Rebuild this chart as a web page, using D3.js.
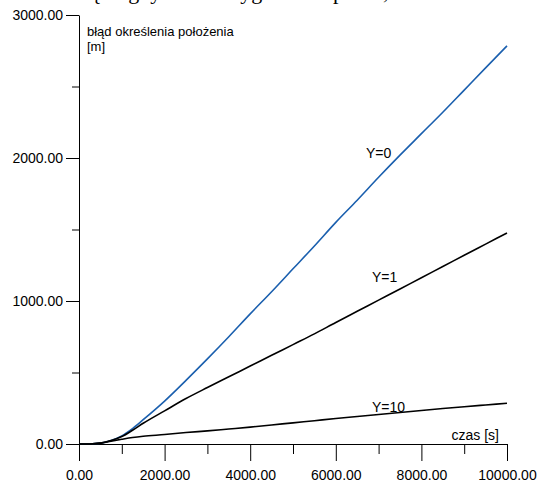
<!DOCTYPE html>
<html>
<head>
<meta charset="utf-8">
<script src="https://cdn.jsdelivr.net/npm/d3@7"></script>
<style>
  html, body { margin: 0; padding: 0; background: #fff; }
  svg { display: block; }
</style>
</head>
<body>
<svg id="chart" width="549" height="482"></svg>
<script>
// ---- data ----
const time = [0, 250, 500, 750, 1000, 1250, 1500, 2000, 2500, 3000, 3500, 4000, 4500, 5000,
              5500, 6000, 6500, 7000, 7500, 8000, 8500, 9000, 9500, 10000];
const errY0  = [0, 0.5, 6, 25, 57, 108, 170, 300, 445, 595, 750, 910, 1065, 1225,
                1385, 1550, 1705, 1865, 2020, 2170, 2320, 2475, 2630, 2784];
const errY1  = [0, 0.5, 6, 24, 52, 96, 145, 232, 318, 395, 470, 545, 620, 695,
                770, 850, 928, 1006, 1084, 1163, 1241, 1320, 1398, 1476];
const errY10 = [0, 0.5, 6, 20, 33, 45, 54, 66, 80, 92, 105, 118, 133, 148,
                163, 178, 192, 206, 220, 234, 248, 261, 273, 285];
const seriesNames = ["Y=0", "Y=1", "Y=10"];
const xMajorTicks = [0, 2000, 4000, 6000, 8000, 10000];
const xMinorTicks = [1000, 3000, 5000, 7000, 9000];
const yMajorTicks = [0, 1000, 2000, 3000];
const yMinorTicks = [500, 1500, 2500];
const yTitle = ["błąd określenia położenia", "[m]"];
const xTitle = "czas [s]";
const topText = "ności błędu gdy nie ma sygnału od pilota, zależności czasu";

// ---- drawing ----
const svg = d3.select("#chart");
const font = "Liberation Sans, Arial, sans-serif";

// cut-off line of the page text above the figure
svg.append("text")
  .attr("x", 22).attr("y", -1)
  .attr("font-family", "Liberation Serif, Times New Roman, serif")
  .attr("font-size", 22)
  .attr("fill", "#000")
  .text(topText);

const x = d3.scaleLinear().domain([0, 10000]).range([79, 507]);
const y = d3.scaleLinear().domain([0, 3000]).range([444, 15]);
const fmt = d3.format(".2f");

// X axis
const gx = svg.append("g").attr("transform", `translate(0,${y(0)})`);
gx.call(d3.axisBottom(x).tickValues(xMajorTicks).tickSize(17).tickSizeOuter(0).tickPadding(9).tickFormat(fmt));
gx.append("g").call(d3.axisBottom(x).tickValues(xMinorTicks).tickSize(10).tickSizeOuter(0).tickFormat(""))
  .select(".domain").remove();

// Y axis
const gy = svg.append("g").attr("transform", `translate(${x(0)},0)`);
gy.call(d3.axisLeft(y).tickValues(yMajorTicks).tickSize(13).tickSizeOuter(0).tickPadding(3).tickFormat(fmt));
gy.append("g").call(d3.axisLeft(y).tickValues(yMinorTicks).tickSize(7).tickSizeOuter(0).tickFormat(""))
  .select(".domain").remove();

svg.selectAll(".domain, .tick line").attr("stroke", "#000").attr("stroke-width", 1);
svg.selectAll(".tick text").attr("font-family", font).attr("font-size", 14).attr("fill", "#000");

// titles
const yt = svg.append("text").attr("font-family", font).attr("font-size", 13).attr("fill", "#000");
yTitle.forEach((t, i) => yt.append("tspan").attr("x", 87).attr("y", 36 + i * 15).text(t));
svg.append("text").attr("x", 499).attr("y", 440).attr("text-anchor", "end")
  .attr("font-family", font).attr("font-size", 14).attr("fill", "#000").text(xTitle);

// lines
const series = [
  { name: seriesNames[0], values: errY0,  color: "#1a5fae", lx: 366, ly: 158 },
  { name: seriesNames[1], values: errY1,  color: "#000000", lx: 372, ly: 282 },
  { name: seriesNames[2], values: errY10, color: "#000000", lx: 372, ly: 412 }
];
const line = d3.line().x(d => x(d[0])).y(d => y(d[1])).curve(d3.curveMonotoneX);
series.forEach(s => {
  svg.append("path")
    .datum(time.map((t, i) => [t, s.values[i]]))
    .attr("fill", "none").attr("stroke", s.color).attr("stroke-width", 1.6)
    .attr("d", line);
  svg.append("text").attr("x", s.lx).attr("y", s.ly)
    .attr("font-family", font).attr("font-size", 14).attr("fill", "#000").text(s.name);
});
</script>
</body>
</html>
